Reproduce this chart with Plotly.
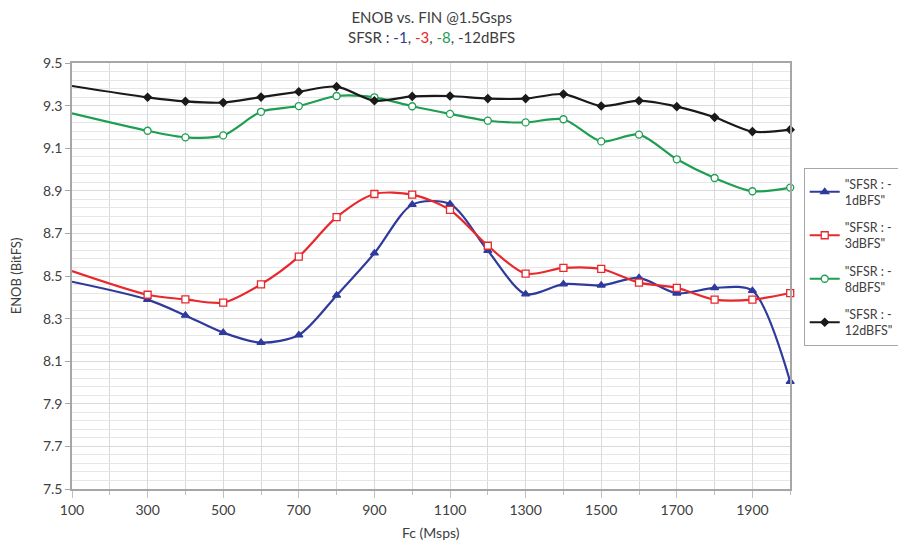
import plotly.graph_objects as go

fc = [100, 300, 400, 500, 600, 700, 800, 900, 1000, 1100, 1200, 1300, 1400, 1500, 1600, 1700, 1800, 1900, 2000]

sfsr_1 = [8.473, 8.389, 8.315, 8.234, 8.187, 8.223, 8.409, 8.607, 8.835, 8.838, 8.619, 8.415, 8.462, 8.456, 8.491, 8.419, 8.444, 8.431, 8.004]
sfsr_3 = [8.523, 8.412, 8.390, 8.375, 8.461, 8.591, 8.776, 8.885, 8.882, 8.810, 8.642, 8.511, 8.538, 8.533, 8.469, 8.444, 8.389, 8.389, 8.420]
sfsr_8 = [9.264, 9.182, 9.151, 9.160, 9.271, 9.298, 9.345, 9.339, 9.297, 9.261, 9.229, 9.221, 9.236, 9.132, 9.164, 9.048, 8.960, 8.898, 8.915]
sfsr_12 = [9.392, 9.339, 9.320, 9.314, 9.340, 9.365, 9.389, 9.323, 9.343, 9.345, 9.333, 9.333, 9.354, 9.298, 9.323, 9.295, 9.245, 9.178, 9.187]

names = ['"SFSR : -<br>1dBFS"', '"SFSR : -<br>3dBFS"', '"SFSR : -<br>8dBFS"', '"SFSR : -<br>12dBFS"']
series = [sfsr_1, sfsr_3, sfsr_8, sfsr_12]
colors = ["#2e3a9c", "#e8282c", "#1e9e52", "#1a1a1a"]
symbols = ["triangle-up", "square", "circle", "diamond"]
fills = ["#2e3a9c", "white", "white", "#1a1a1a"]
msizes = [7, 7, 7, 6]

FONT = "Lato"
fig = go.Figure()
for name, ys, c, s, f, ms in zip(names, series, colors, symbols, fills, msizes):
    fig.add_trace(go.Scatter(
        x=fc, y=ys, name=name, mode="lines", showlegend=False, legendgroup=name,
        line=dict(color=c, width=2.2, shape="spline", smoothing=0.8),
        hoverinfo="skip",
    ))
    fig.add_trace(go.Scatter(
        x=fc[1:], y=ys[1:], name=name, mode="markers", showlegend=False, legendgroup=name,
        marker=dict(symbol=s, size=ms, color=f, line=dict(color=c, width=1.3)),
        cliponaxis=False,
    ))
    fig.add_trace(go.Scatter(
        x=[None], y=[None], name=name, mode="lines+markers", legendgroup=name,
        line=dict(color=c, width=2.2),
        marker=dict(symbol=s, size=ms, color=f, line=dict(color=c, width=1.3)),
    ))

fig.add_annotation(
    text="ENOB vs. FIN @1.5Gsps<br>SFSR : <span style='color:#2e3a9c'>-1</span>, "
         "<span style='color:#e8282c'>-3</span>, <span style='color:#1e9e52'>-8</span>, -12dBFS",
    x=0.5, xref="paper", xanchor="center", y=1.035, yref="paper", yanchor="bottom",
    showarrow=False, font=dict(family=FONT, size=15, color="#404040"),
)
fig.add_annotation(
    text="Fc (Msps)",
    x=0.5, xref="paper", xanchor="center", y=-0.101, yref="paper", yanchor="middle",
    showarrow=False, font=dict(family=FONT, size=14, color="#404040"),
)

fig.update_layout(
    width=898, height=542,
    margin=dict(l=72, r=101, t=63, b=53),
    paper_bgcolor="white", plot_bgcolor="white",
    font=dict(family=FONT, size=13, color="#404040"),
    legend=dict(
        xref="container", yref="container",
        x=0.895, xanchor="left", y=0.69, yanchor="top",
        bordercolor="#a6a6a6", borderwidth=1, bgcolor="white",
        font=dict(family=FONT, size=12.5, color="#404040"),
        itemwidth=30, tracegroupgap=8,
    ),
    showlegend=True,
)

fig.update_xaxes(
    range=[100, 2000], tick0=100, dtick=200, showgrid=True, gridcolor="#d9d9d9", gridwidth=1,
    minor=dict(dtick=100, tick0=100, showgrid=True, gridcolor="#d9d9d9", ticks="outside", ticklen=4, tickcolor="#bfbfbf"),
    ticks="outside", ticklen=7, tickcolor="#bfbfbf",
    showline=True, linecolor="#a6a6a6", linewidth=1.5, mirror=True,
    tickfont=dict(size=14), automargin=False,
    zeroline=False,
)
fig.update_yaxes(
    range=[7.5, 9.5], tick0=7.5, dtick=0.2, tickformat=".1f",
    showgrid=True, gridcolor="#d9d9d9", gridwidth=1,
    minor=dict(dtick=0.04, tick0=7.5, showgrid=True, gridcolor="#e6e6e6"),
    ticks="outside", ticklen=5, tickcolor="#a6a6a6",
    showline=True, linecolor="#a6a6a6", linewidth=1.5, mirror=True,
    tickfont=dict(size=14),
    title=dict(text="ENOB (BitFS)", standoff=18, font=dict(family=FONT, size=13, color="#404040")),
    zeroline=False,
)

fig.write_html("out.html")
